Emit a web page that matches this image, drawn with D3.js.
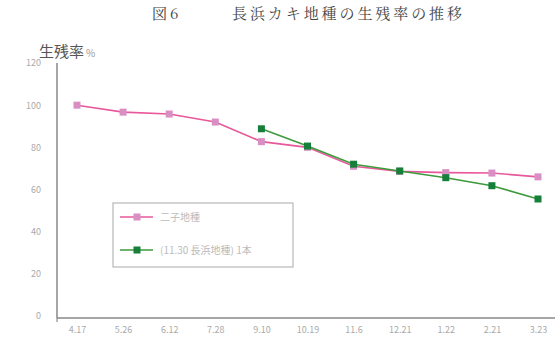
<!DOCTYPE html>
<html><head><meta charset="utf-8">
<script src="https://cdn.jsdelivr.net/npm/d3@7"></script>
<style>
html,body{margin:0;padding:0;background:#fff;}
svg{display:block;}
</style></head>
<body>
<svg id="chart" width="560" height="344"></svg>
<script>
// Sampling dates
const dates = ["4.17","5.26","6.12","7.28","9.10","10.19","11.6","12.21","1.22","2.21","3.23"];
// Survival rate (%) per series
const seriesA = [100, 96.7, 95.8, 92, 82.7, 80, 71, 68.6, 68, 67.8, 66];
const seriesB = [null, null, null, null, 88.8, 80.6, 72, 68.8, 65.6, 61.8, 55.5];
const seriesNames = ["二子地種", "(11.30 長浜地種) 1本"];
const yTicks = [0, 20, 40, 60, 80, 100, 120];

const svg = d3.select("#chart");
const font = "'Noto Sans CJK JP', sans-serif";
const serif = "'Noto Serif CJK JP', 'DejaVu Serif', serif";

const x = d3.scalePoint().domain(dates).range([77, 538]);
const y = d3.scaleLinear().domain([0, 120]).range([316, 63]);

// title
svg.append("text").attr("x", 152).attr("y", 19)
  .attr("font-family", serif).attr("font-size", 15).attr("fill", "#444")
  .attr("letter-spacing", 3).text("図6");
svg.append("text").attr("x", 232).attr("y", 19)
  .attr("font-family", serif).attr("font-size", 15).attr("fill", "#444")
  .attr("textLength", 230).attr("lengthAdjust", "spacing")
  .text("長浜カキ地種の生残率の推移");

// y axis
const yAxis = d3.axisLeft(y).tickValues(yTicks).tickSize(0).tickPadding(16);
const gy = svg.append("g").attr("transform", "translate(57,0)").call(yAxis);
gy.select(".domain").remove();
gy.selectAll("text").attr("font-family", font).attr("font-size", 9).attr("fill", "#aaa");

// x axis
const xAxis = d3.axisBottom(x).tickSize(0).tickPadding(9);
const gx = svg.append("g").attr("transform", "translate(0,318)").call(xAxis);
gx.select(".domain").remove();
gx.selectAll("text").attr("font-family", font).attr("font-size", 9).attr("fill", "#aaa");

// axis lines
svg.append("line").attr("x1", 57).attr("x2", 57).attr("y1", y(120)).attr("y2", 318)
  .attr("stroke", "#777").attr("stroke-width", 1.3);
svg.append("line").attr("x1", 57).attr("x2", 555).attr("y1", 318).attr("y2", 318)
  .attr("stroke", "#888").attr("stroke-width", 1.3);
svg.append("line").attr("x1", 57).attr("x2", 57).attr("y1", 318).attr("y2", 322)
  .attr("stroke", "#777");

// y axis title
svg.append("text").attr("x", 39).attr("y", 57).attr("font-family", font)
  .attr("font-size", 15).attr("fill", "#555").text("生残率");
svg.append("text").attr("x", 86).attr("y", 57).attr("font-family", font)
  .attr("font-size", 10).attr("fill", "#999").text("%");

const colors = [{line: "#e8589a", mark: "#d98fc4"}, {line: "#3d9a3d", mark: "#16803a"}];
const all = [seriesA, seriesB];

all.forEach((vals, i) => {
  const pts = dates.map((d, j) => ({d, v: vals[j]})).filter(p => p.v != null);
  const line = d3.line().x(p => x(p.d)).y(p => y(p.v));
  svg.append("path").datum(pts).attr("d", line).attr("fill", "none")
    .attr("stroke", colors[i].line).attr("stroke-width", 1.6);
  svg.selectAll(null).data(pts).enter().append("rect")
    .attr("x", p => x(p.d) - 3.5).attr("y", p => y(p.v) - 3.5)
    .attr("width", 7).attr("height", 7).attr("fill", colors[i].mark);
});

// legend
const lg = svg.append("g");
lg.append("rect").attr("x", 113).attr("y", 203).attr("width", 180).attr("height", 64)
  .attr("fill", "#fff").attr("stroke", "#aaa").attr("stroke-width", 1);
[217, 250].forEach((ly, i) => {
  lg.append("line").attr("x1", 120).attr("x2", 153).attr("y1", ly).attr("y2", ly)
    .attr("stroke", colors[i].line).attr("stroke-width", 1.6);
  lg.append("rect").attr("x", 133.5).attr("y", ly - 3.5).attr("width", 7).attr("height", 7)
    .attr("fill", colors[i].mark);
  lg.append("text").attr("x", 160).attr("y", ly + 4).attr("font-family", font)
    .attr("font-size", 10).attr("fill", "#bbb").text(seriesNames[i]);
});
</script>
</body></html>
